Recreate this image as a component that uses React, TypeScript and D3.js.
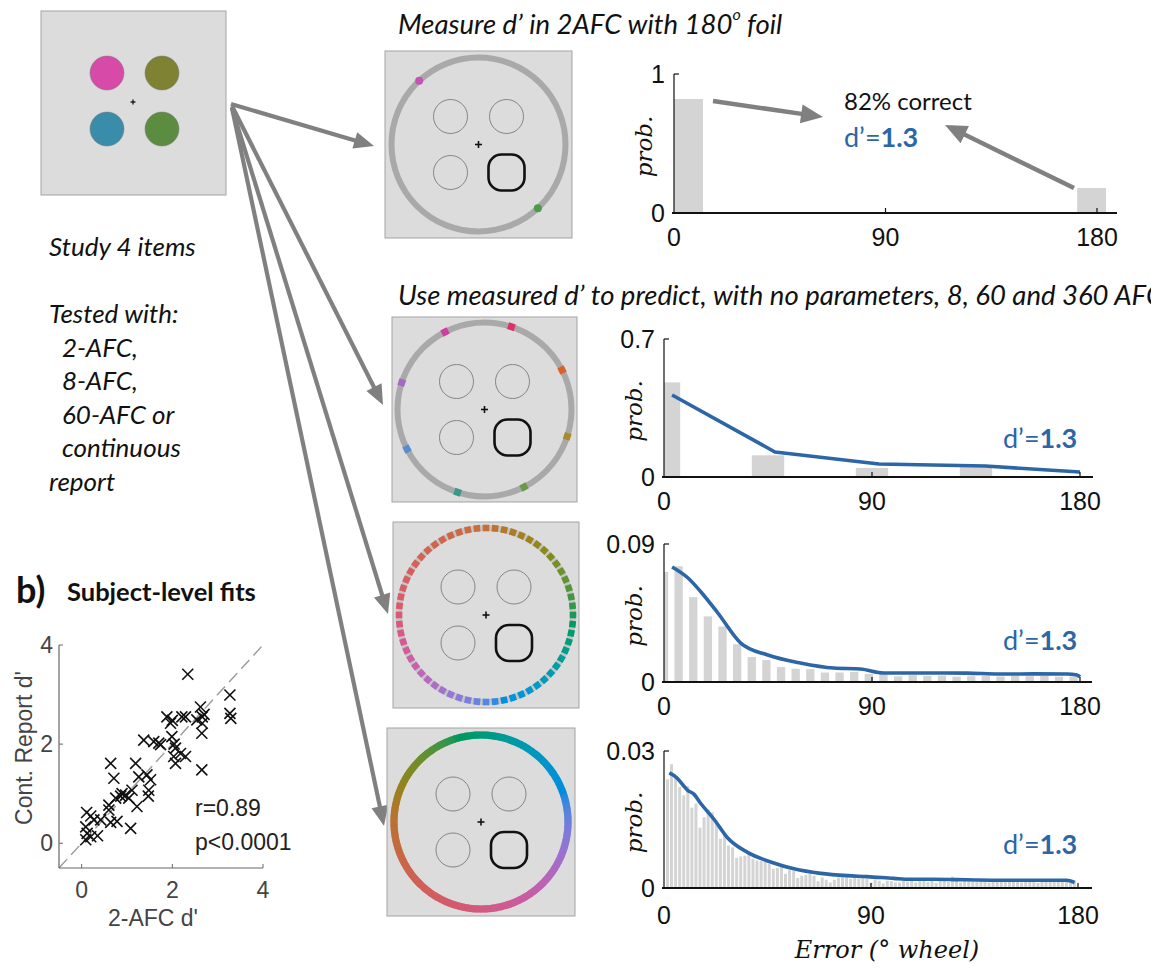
import React from 'react';
import * as d3 from 'd3';

const W = 1151, H = 970;

// ---------- data ----------
const tickDeg = [0, 90, 180];

// 2-AFC
const afc2Err = [6.2, 177.7];
const afc2Prob = [0.82, 0.18];

// 8-AFC
const afc8Err = [0, 45, 90, 135, 180];
const afc8Prob = [0.48, 0.11, 0.046, 0.05, 0];
const afc8ModelErr = [3.5, 48, 93, 139, 180];
const afc8ModelProb = [0.416, 0.127, 0.066, 0.056, 0.025];

// 60-AFC
const afc60Prob = [0.0718, 0.0755, 0.0553, 0.0428, 0.0362, 0.0246, 0.0163, 0.0143, 0.0097, 0.0086,
  0.0084, 0.0062, 0.0062, 0.0066, 0.0053, 0.005, 0.0037, 0.0045, 0.004, 0.0042,
  0.0035, 0.0038, 0.004, 0.0036, 0.0042, 0.0038, 0.004, 0.0035, 0.0037];
const afc60ModelErr = [3.5, 10.4, 16, 23.3, 33.2, 44.9, 59, 73.4, 85, 95, 116.5, 131, 145, 160, 174.4, 178.7, 180];
const afc60ModelProb = [0.075, 0.0678, 0.0587, 0.045, 0.0254, 0.0176, 0.0124, 0.0091, 0.0085, 0.0059, 0.0059, 0.0058, 0.0052, 0.0053, 0.0052, 0.0046, 0.0033];

// continuous (360-AFC)
const afc360Prob = [0.0238, 0.0271, 0.0243, 0.0221, 0.0203, 0.0223, 0.0176, 0.0185, 0.0132, 0.0155,
  0.0172, 0.0166, 0.0148, 0.0108, 0.0119, 0.0093, 0.0089, 0.0066, 0.0069, 0.0071,
  0.0078, 0.0064, 0.006, 0.0059, 0.0059, 0.0053, 0.0042, 0.0044, 0.0049, 0.0031,
  0.004, 0.0038, 0.0022, 0.0027, 0.0029, 0.0032, 0.0027, 0.0015, 0.0023, 0.0018,
  0.0012, 0.0018, 0.0023, 0.0031, 0.0025, 0.002, 0.0023, 0.0021, 0.0023, 0.002,
  0.0012, 0.0018, 0.0016, 0.001, 0.0016, 0.0015, 0.0012, 0.0012, 0.0016,
  0.0014, 0.0016, 0.0012, 0.0015, 0.0018, 0.0013, 0.0016, 0.0011, 0.0015, 0.0017,
  0.0013, 0.0025, 0.0016, 0.0012, 0.0015, 0.0015, 0.0014, 0.0013, 0.0016, 0.0015,
  0.0012, 0.0017, 0.0014, 0.0015, 0.0013, 0.0016, 0.0018, 0.0014, 0.0012, 0.0015,
  0.0016, 0.0013, 0.0011, 0.0015, 0.0014, 0.0017, 0.0013, 0.0016, 0.0014, 0.0015,
  0.0013, 0.0016];
const afc360ModelErr = [2.3, 5.2, 10.3, 13.1, 16, 21.8, 27.6, 36.3, 46.4, 56.5, 68.1, 79.7, 88.3, 99.9, 107, 117, 131.7, 146, 160.6, 175, 178.5];
const afc360ModelProb = [0.0252, 0.0243, 0.0214, 0.0205, 0.0185, 0.015, 0.011, 0.0078, 0.0057, 0.0042, 0.0032, 0.0027, 0.0025, 0.0021, 0.0019, 0.0019, 0.0018, 0.0017, 0.0017, 0.0017, 0.0012];

// subject-level fits
const subj2afc = [0.11, 0.2, 0.09, 0.12, 0.2, 0.09, 0.35, 0.27, 0.42, 0.6, 0.64, 0.6, 0.75, 0.64, 0.71, 0.78, 0.89, 0.97, 0.86, 1.04,
  1.08, 1.11, 1.19, 1.22, 1.26, 1.37, 1.44, 1.48, 1.47, 1.52, 1.59, 1.7, 1.74, 1.88, 1.96, 2.0, 1.99, 2.04, 2.07, 2.03,
  2.07, 2.18, 2.21, 2.29, 2.34, 2.29, 2.62, 2.66, 2.66, 2.65, 2.65, 2.7, 3.27, 3.27, 3.29, 2.54];
const subjCont = [0.62, 0.55, 0.33, 0.2, 0.13, 0.07, 0.15, 0.47, 0.47, 0.67, 0.42, 0.77, 0.91, 1.61, 1.31, 0.44, 1.0, 0.97, 0.95, 0.91,
  0.3, 1.07, 1.61, 0.74, 1.34, 2.08, 1.38, 1.07, 0.95, 1.28, 2.05, 2.02, 1.99, 2.55, 2.42, 2.48, 2.15, 2.0, 1.92, 1.75,
  1.61, 1.81, 2.55, 1.75, 3.41, 2.55, 2.75, 2.55, 2.42, 2.22, 1.48, 2.6, 2.99, 2.62, 2.52, 2.49];
const scatterTicks = [0, 2, 4];

const studyColors = ['#d84aa8', '#7e8232', '#3a8cab', '#5c8c40'];
const afc8Colors = ['#e0306a', '#d9622b', '#a88c2c', '#6a9a48', '#3a9a8a', '#5a8ad0', '#a868c8', '#d03ca0'];

// ---------- styles ----------
const BLUE = '#2c66a7';
const GREY_ARROW = '#808080';
const BAR = '#d4d4d4';
const SANS = '"Liberation Sans", Arial, sans-serif';
const CAL = 'Lato, "Open Sans", sans-serif';
const SERIF = '"DejaVu Serif", serif';

// wheel position (deg clockwise from top) -> CIELAB hue angle
const hue60 = d3.scaleLinear().domain([0, 90, 180, 270, 360]).range([55, 150, 275, 375, 415]);
const hueCont = d3.scaleLinear().domain([0, 90, 135, 180, 270, 360]).range([175, 285, 330, 365, 420, 535]);

function Arrow({ x1, y1, x2, y2, w = 4, hl = 18, hw = 16, color = GREY_ARROW }) {
  const dx = x2 - x1, dy = y2 - y1;
  const L = Math.hypot(dx, dy);
  const ux = dx / L, uy = dy / L;
  const bx = x2 - ux * hl, by = y2 - uy * hl;
  const px = -uy, py = ux;
  const pts = [[x2, y2], [bx + px * hw / 2, by + py * hw / 2], [bx - px * hw / 2, by - py * hw / 2]];
  return (
    <g>
      <line x1={x1} y1={y1} x2={bx + ux * 2} y2={by + uy * 2} stroke={color} strokeWidth={w} />
      <polygon points={pts.map(p => p.join(',')).join(' ')} fill={color} />
    </g>
  );
}

function polar(cx, cy, r, thetaDeg) {
  const t = thetaDeg * Math.PI / 180;
  return [cx + r * Math.sin(t), cy - r * Math.cos(t)];
}

function labHue(h, L = 56, C = 54) {
  const t = h * Math.PI / 180;
  return d3.lab(L, C * Math.cos(t), C * Math.sin(t)).formatHex();
}

function Probes({ cx, cy }) {
  const o = 28, r = 17;
  return (
    <g>
      {[[-o, -o], [o, -o], [-o, o]].map(([dx, dy], i) => (
        <circle key={i} cx={cx + dx} cy={cy + dy} r={r} fill="none" stroke="#7a7a7a" strokeWidth={0.9} />
      ))}
      <rect x={cx + o - 18} y={cy + o - 18} width={36} height={36} rx={13} fill="none" stroke="#111" strokeWidth={2.6} />
      <line x1={cx - 3.5} x2={cx + 3.5} y1={cy} y2={cy} stroke="#111" strokeWidth={1.6} />
      <line x1={cx} x2={cx} y1={cy - 3.5} y2={cy + 3.5} stroke="#111" strokeWidth={1.6} />
    </g>
  );
}

function Stim({ x, y, size, kind }) {
  const cx = x + size / 2, cy = y + size / 2, R = 87;
  const items = [];
  if (kind === '2afc') {
    items.push(<circle key="ring" cx={cx} cy={cy} r={R} fill="none" stroke="#a9a9a9" strokeWidth={6} />);
    const [ax, ay] = polar(cx, cy, R, 317);
    const [bx, by] = polar(cx, cy, R, 137);
    items.push(<circle key="a" cx={ax} cy={ay} r={4} fill="#c255b4" />);
    items.push(<circle key="b" cx={bx} cy={by} r={4} fill="#4f9a4a" />);
  } else if (kind === '8afc') {
    items.push(<circle key="ring" cx={cx} cy={cy} r={R} fill="none" stroke="#a9a9a9" strokeWidth={6} />);
    afc8Colors.forEach((c, k) => {
      const th = 18 + 45 * k;
      const [px, py] = polar(cx, cy, R, th);
      items.push(<rect key={k} x={px - 3.5} y={py - 3.5} width={7} height={7} fill={c} transform={`rotate(${th},${px},${py})`} />);
    });
  } else if (kind === '60afc') {
    items.push(<circle key="ring" cx={cx} cy={cy} r={R} fill="none" stroke="#c4c4c4" strokeWidth={6} />);
    d3.range(60).forEach(k => {
      const th = k * 6;
      const [px, py] = polar(cx, cy, R, th);
      items.push(<rect key={k} x={px - 3.3} y={py - 3.3} width={6.6} height={6.6} fill={labHue(hue60(th))} transform={`rotate(${th},${px},${py})`} />);
    });
  } else {
    const arc = d3.arc().innerRadius(R - 3.6).outerRadius(R + 3.6);
    d3.range(360).forEach(k => {
      items.push(<path key={k} d={arc({ startAngle: k * Math.PI / 180, endAngle: (k + 1.6) * Math.PI / 180 })}
        transform={`translate(${cx},${cy})`} fill={labHue(hueCont(k), 55, 52)} />);
    });
  }
  return (
    <g>
      <rect x={x} y={y} width={size} height={size} fill="#dcdcdc" stroke="#a3a3a3" strokeWidth={1} />
      {items}
      <Probes cx={cx} cy={cy} />
    </g>
  );
}

function Hist({ x0, x180, y0, yTop, yMax, yMaxLabel, axisEnd, err, prob, barW, modelErr, modelProb, dLabel, labelGap = 26, smooth = true }) {
  const xs = d3.scaleLinear().domain([0, 180]).range([x0, x180]);
  const ys = d3.scaleLinear().domain([0, yMax]).range([y0, yTop]);
  const line = d3.line().x(d => xs(d[0])).y(d => ys(d[1])).curve(smooth ? d3.curveMonotoneX : d3.curveLinear);
  return (
    <g>
      {err.map((e, i) => {
        const a = Math.max(0, e - barW / 2), b = e + barW / 2;
        return <rect key={i} x={xs(a)} y={ys(prob[i])} width={xs(b) - xs(a)} height={y0 - ys(prob[i])} fill={BAR} />;
      })}
      {modelErr && <path d={line(modelErr.map((e, i) => [e, modelProb[i]]))} fill="none" stroke={BLUE} strokeWidth={3.6} strokeLinejoin="round" />}
      <line x1={x0} x2={x0} y1={yTop} y2={y0} stroke="#111" strokeWidth={1.2} />
      <line x1={x0} x2={x0 + 5} y1={yTop} y2={yTop} stroke="#111" strokeWidth={1.2} />
      <line x1={x0 - 2} x2={axisEnd} y1={y0} y2={y0} stroke="#111" strokeWidth={2.2} />
      {tickDeg.slice(1).map(t => (
        <line key={t} x1={xs(t)} x2={xs(t)} y1={y0} y2={y0 - 5} stroke="#111" strokeWidth={1.2} />
      ))}
      <text x={x0 - 9} y={yTop} fontFamily={SANS} fontSize={25} textAnchor="end" dominantBaseline="central" fill="#111">{yMaxLabel}</text>
      <text x={x0 - 9} y={y0} fontFamily={SANS} fontSize={25} textAnchor="end" dominantBaseline="central" fill="#111">0</text>
      {tickDeg.map(t => (
        <text key={t} x={xs(t)} y={y0 + labelGap} fontFamily={SANS} fontSize={25} textAnchor="middle" dominantBaseline="central" fill="#111">{t}</text>
      ))}
      <text transform={`translate(${x0 - 30},${(y0 + yTop) / 2 + 3}) rotate(-90)`} fontFamily={SERIF} fontStyle="italic" fontSize={23}
        textAnchor="middle" dominantBaseline="central" fill="#111">prob.</text>
      {dLabel && (
        <text x={dLabel[0]} y={dLabel[1]} fontFamily={CAL} fontSize={27} fill={BLUE} dominantBaseline="central">
          d’=<tspan fontWeight="bold">1.3</tspan>
        </text>
      )}
    </g>
  );
}

function Scatter() {
  const xs = d3.scaleLinear().domain([-0.5, 4]).range([59, 263]);
  const ys = d3.scaleLinear().domain([-0.5, 4]).range([868, 645]);
  const s = 5.5;
  return (
    <g>
      <text x={16} y={603} fontFamily={CAL} fontWeight="bold" fontSize={36} fill="#111">b)</text>
      <text x={67} y={601} fontFamily={CAL} fontWeight="bold" fontSize={25.5} fill="#111">Subject-level fits</text>
      <line x1={xs(-0.5)} y1={ys(-0.5)} x2={xs(4)} y2={ys(4)} stroke="#9a9a9a" strokeWidth={1.4} strokeDasharray="12 6" />
      <line x1={xs(-0.5)} x2={xs(-0.5)} y1={ys(-0.5)} y2={ys(4)} stroke="#666" strokeWidth={1.2} />
      <line x1={xs(-0.5)} x2={xs(4)} y1={ys(-0.5)} y2={ys(-0.5)} stroke="#666" strokeWidth={1.2} />
      {scatterTicks.map(t => (
        <g key={t}>
          <line x1={xs(t)} x2={xs(t)} y1={ys(-0.5)} y2={ys(-0.5) - 4} stroke="#666" />
          <line x1={xs(-0.5)} x2={xs(-0.5) + 4} y1={ys(t)} y2={ys(t)} stroke="#666" />
          <text x={xs(t)} y={ys(-0.5) + 22} fontFamily={SANS} fontSize={23} textAnchor="middle" dominantBaseline="central" fill="#444">{t}</text>
          <text x={xs(-0.5) - 6} y={ys(t)} fontFamily={SANS} fontSize={23} textAnchor="end" dominantBaseline="central" fill="#444">{t}</text>
        </g>
      ))}
      {subj2afc.map((v, i) => {
        const cx = xs(v), cy = ys(subjCont[i]);
        return (
          <g key={i} stroke="#111" strokeWidth={1.6}>
            <line x1={cx - s} y1={cy - s} x2={cx + s} y2={cy + s} />
            <line x1={cx - s} y1={cy + s} x2={cx + s} y2={cy - s} />
          </g>
        );
      })}
      <text x={153} y={918} fontFamily={SANS} fontSize={23} textAnchor="middle" dominantBaseline="central" fill="#444">2-AFC d'</text>
      <text transform="translate(24,748) rotate(-90)" fontFamily={SANS} fontSize={23} textAnchor="middle" dominantBaseline="central" fill="#444">Cont. Report d'</text>
      <text x={195} y={808} fontFamily={SANS} fontSize={23} dominantBaseline="central" fill="#222">r=0.89</text>
      <text x={195} y={842} fontFamily={SANS} fontSize={23} dominantBaseline="central" fill="#222">p&lt;0.0001</text>
    </g>
  );
}

export default function App() {
  const studyPts = [[107, 73], [162, 73], [107, 129], [162, 129]];
  const leftLines = ['Tested with:', '  2-AFC,', '  8-AFC,', '  60-AFC or', '  continuous', 'report'];
  return (
    <svg width={W} height={H} style={{ position: 'absolute', left: 0, top: 0, background: '#fff' }}>
      {/* study display */}
      <rect x={41} y={11} width={185} height={184} fill="#dcdcdc" stroke="#a3a3a3" />
      {studyPts.map((p, i) => <circle key={i} cx={p[0]} cy={p[1]} r={17} fill={studyColors[i]} stroke="#777" strokeWidth={0.5} />)}
      <line x1={130.5} x2={135.5} y1={102} y2={102} stroke="#111" strokeWidth={1.3} />
      <line x1={133} x2={133} y1={99.5} y2={104.5} stroke="#111" strokeWidth={1.3} />

      <text x={49} y={246} fontFamily={CAL} fontStyle="italic" fontSize={26} dominantBaseline="central" fill="#111">Study 4 items</text>
      {leftLines.map((t, i) => (
        <text key={i} x={t.startsWith('  ') ? 62 : 49} y={313 + i * 33.5} fontFamily={CAL} fontStyle="italic" fontSize={26}
          dominantBaseline="central" fill="#111">{t.trim()}</text>
      ))}

      {/* arrows from study display */}
      <Arrow x1={231} y1={104} x2={374} y2={146} w={4.2} hl={20} hw={17} />
      <Arrow x1={232} y1={106} x2={383} y2={405} w={4.2} hl={20} hw={17} />
      <Arrow x1={232} y1={108} x2={388} y2={614} w={4.2} hl={20} hw={17} />
      <Arrow x1={232} y1={108} x2={384} y2={826} w={4.2} hl={20} hw={17} />

      {/* headings */}
      <text x={398} y={23} fontFamily={CAL} fontStyle="italic" fontSize={27.5} dominantBaseline="central" fill="#111">
        Measure d’ in 2AFC with 180<tspan fontSize={16} dy={-10}>o</tspan><tspan dy={10}> foil</tspan>
      </text>
      <text x={398} y={294} fontFamily={CAL} fontStyle="italic" fontSize={27.5} dominantBaseline="central" fill="#111">
        Use measured d’ to predict, with no parameters, 8, 60 and 360 AFC
      </text>

      {/* stimulus panels */}
      <Stim x={385} y={51} size={187} kind="2afc" />
      <Stim x={392} y={317} size={185} kind="8afc" />
      <Stim x={393} y={522} size={186} kind="60afc" />
      <Stim x={387} y={728} size={188} kind="cont" />

      {/* histograms */}
      <Hist x0={674} x180={1097} y0={213} yTop={74} yMax={1} yMaxLabel="1" axisEnd={1117}
        err={afc2Err} prob={afc2Prob} barW={12.3} labelGap={24} />
      <text x={844} y={100} fontFamily={CAL} fontSize={24} dominantBaseline="central" fill="#111">82% correct</text>
      <text x={844} y={136} fontFamily={CAL} fontSize={27} dominantBaseline="central" fill={BLUE}>d’=<tspan fontWeight="bold">1.3</tspan></text>
      <Arrow x1={713} y1={101} x2={823} y2={117} w={4.5} hl={22} hw={19} />
      <Arrow x1={1074} y1={188} x2={945} y2={125} w={4.5} hl={22} hw={19} />

      <Hist x0={664} x180={1080} y0={477} yTop={339} yMax={0.7} yMaxLabel="0.7" axisEnd={1093}
        err={afc8Err} prob={afc8Prob} barW={14} modelErr={afc8ModelErr} modelProb={afc8ModelProb} dLabel={[1003, 437]} labelGap={24} smooth={false} />
      <Hist x0={664} x180={1080} y0={682} yTop={544} yMax={0.09} yMaxLabel="0.09" axisEnd={1092}
        err={afc60Prob.map((_, i) => i * 6.33)} prob={afc60Prob} barW={3.6} modelErr={afc60ModelErr} modelProb={afc60ModelProb} dLabel={[1003, 639]} labelGap={24} />
      <Hist x0={664} x180={1078} y0={888} yTop={751} yMax={0.03} yMaxLabel="0.03" axisEnd={1092}
        err={afc360Prob.map((_, i) => 1.5 + i * 1.77)} prob={afc360Prob} barW={1.3} modelErr={afc360ModelErr} modelProb={afc360ModelProb} dLabel={[1003, 843]} labelGap={27} />
      <text x={887} y={950} fontFamily={SERIF} fontStyle="italic" fontSize={24} textAnchor="middle" dominantBaseline="central" fill="#111">
        Error (° wheel)
      </text>

      <Scatter />
    </svg>
  );
}
